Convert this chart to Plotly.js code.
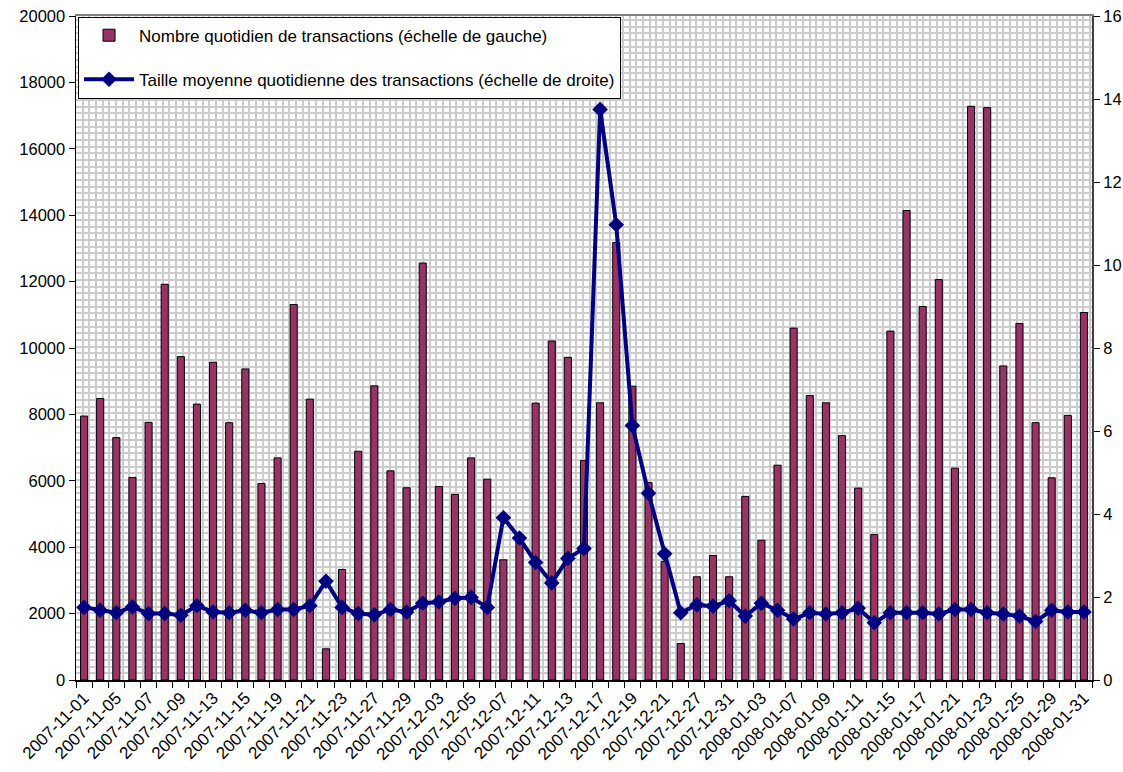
<!DOCTYPE html>
<html>
<head>
<meta charset="utf-8">
<script src="https://cdn.plot.ly/plotly-3.0.1.min.js"></script>
<style>
html, body { margin: 0; padding: 0; background: #ffffff; }
#chart { width: 1123px; height: 772px; }
</style>
</head>
<body>
<div id="chart"></div>
<script>
const dates = [
  "2007-11-01","2007-11-02","2007-11-05","2007-11-06","2007-11-07","2007-11-08","2007-11-09",
  "2007-11-12","2007-11-13","2007-11-14","2007-11-15","2007-11-16","2007-11-19","2007-11-20",
  "2007-11-21","2007-11-22","2007-11-23","2007-11-26","2007-11-27","2007-11-28","2007-11-29",
  "2007-11-30","2007-12-03","2007-12-04","2007-12-05","2007-12-06","2007-12-07","2007-12-10",
  "2007-12-11","2007-12-12","2007-12-13","2007-12-14","2007-12-17","2007-12-18","2007-12-19",
  "2007-12-20","2007-12-21","2007-12-24","2007-12-27","2007-12-28","2007-12-31","2008-01-02",
  "2008-01-03","2008-01-04","2008-01-07","2008-01-08","2008-01-09","2008-01-10","2008-01-11",
  "2008-01-14","2008-01-15","2008-01-16","2008-01-17","2008-01-18","2008-01-21","2008-01-22",
  "2008-01-23","2008-01-24","2008-01-25","2008-01-28","2008-01-29","2008-01-30","2008-01-31"
];

const transactionCount = [
  7950, 8480, 7300, 6100, 7760, 11920, 9740, 8310, 9570, 7750,
  9370, 5920, 6690, 11310, 8460, 940, 3330, 6890, 8860, 6300,
  5790, 12560, 5830, 5590, 6690, 6050, 3620, 4300, 8340, 10210,
  9720, 6610, 8350, 13180, 8850, 5950, 3570, 1100, 3110, 3750,
  3110, 5530, 4210, 6470, 10600, 8570, 8350, 7360, 5780, 4380,
  10510, 14140, 11250, 12060, 6380, 17280, 17240, 9460, 10740, 7750,
  6090, 7970, 11070
];

const averageSize = [
  1.75, 1.68, 1.62, 1.76, 1.60, 1.60, 1.56, 1.79, 1.64, 1.62,
  1.68, 1.62, 1.70, 1.70, 1.79, 2.38, 1.75, 1.60, 1.57, 1.70,
  1.64, 1.85, 1.88, 1.97, 1.99, 1.75, 3.91, 3.42, 2.83, 2.34,
  2.93, 3.17, 13.75, 10.97, 6.13, 4.50, 3.04, 1.62, 1.81, 1.78,
  1.91, 1.54, 1.85, 1.68, 1.47, 1.62, 1.59, 1.62, 1.73, 1.38,
  1.62, 1.62, 1.62, 1.59, 1.70, 1.70, 1.62, 1.59, 1.54, 1.41,
  1.68, 1.64, 1.64
];

const tickLabels = [
  "2007-11-01","2007-11-05","2007-11-07","2007-11-09","2007-11-13","2007-11-15","2007-11-19",
  "2007-11-21","2007-11-23","2007-11-27","2007-11-29","2007-12-03","2007-12-05","2007-12-07",
  "2007-12-11","2007-12-13","2007-12-17","2007-12-19","2007-12-21","2007-12-27","2007-12-31",
  "2008-01-03","2008-01-07","2008-01-09","2008-01-11","2008-01-15","2008-01-17","2008-01-21",
  "2008-01-23","2008-01-25","2008-01-29","2008-01-31"
];

const seriesNames = [
  "Nombre quotidien de transactions (échelle de gauche)",
  "Taille moyenne quotidienne des transactions (échelle de droite)"
];

const FONT = 'Arial, "Liberation Sans", sans-serif';

const traces = [
  {
    type: 'bar',
    x: dates,
    y: transactionCount,
    name: seriesNames[0],
    legendgroup: 'a',
    marker: { color: '#993366', line: { color: '#000000', width: 1 } },
    xaxis: 'x', yaxis: 'y'
  },
  {
    type: 'scatter',
    mode: 'lines+markers',
    x: dates,
    y: averageSize,
    name: seriesNames[1],
    legendgroup: 'b',
    line: { color: '#000080', width: 4 },
    marker: { symbol: 'diamond', size: 12, color: '#000080' },
    xaxis: 'x', yaxis: 'y2'
  },
  {
    // empty helper trace that carries the background pattern grid axes
    type: 'scatter',
    x: [], y: [],
    xaxis: 'x2', yaxis: 'y3',
    showlegend: false,
    hoverinfo: 'skip'
  }
];

const layout = {
  width: 1123,
  height: 772,
  margin: { l: 76, r: 31, t: 16, b: 92 },
  paper_bgcolor: '#ffffff',
  plot_bgcolor: '#ffffff',
  font: { family: FONT, size: 16, color: '#000000' },
  showlegend: true,
  bargap: 0.56,
  legend: {
    x: 0.002, y: 0.999, xanchor: 'left', yanchor: 'top',
    bgcolor: '#ffffff', bordercolor: '#000000', borderwidth: 1,
    font: { family: FONT, size: 17, color: '#000000' },
    traceorder: 'grouped', tracegroupgap: 19,
    itemwidth: 50
  },
  xaxis: {
    type: 'category',
    range: [-0.5, dates.length - 0.5],
    autorange: false,
    tickmode: 'array',
    tickvals: dates,
    ticktext: dates.map(d => tickLabels.includes(d) ? d : ''),
    tickson: 'boundaries',
    ticks: 'outside', ticklen: 6, tickcolor: '#000000', tickwidth: 1,
    tickangle: -45,
    tickfont: { family: FONT, size: 17, color: '#000000' },
    showgrid: false,
    showline: true, linecolor: '#000000', linewidth: 1.5,
    zeroline: false
  },
  yaxis: {
    range: [0, 20000],
    dtick: 2000,
    tickformat: 'd',
    ticks: 'outside', ticklen: 6, tickcolor: '#000000',
    tickfont: { family: FONT, size: 16.5, color: '#000000' },
    showgrid: false,
    showline: true, linecolor: '#000000', linewidth: 1.5,
    zeroline: false
  },
  yaxis2: {
    overlaying: 'y', side: 'right', anchor: 'x',
    range: [0, 16],
    dtick: 2,
    tickformat: 'd',
    ticks: 'outside', ticklen: 6, tickcolor: '#000000',
    tickfont: { family: FONT, size: 16.5, color: '#000000' },
    showgrid: false,
    showline: true, linecolor: '#404040', linewidth: 2,
    zeroline: false
  },
  xaxis2: {
    overlaying: 'x', side: 'top', anchor: 'y3',
    range: [0, 152.3], dtick: 1,
    showticklabels: false, ticks: '',
    showgrid: true, gridcolor: '#cccccc', gridwidth: 2,
    showline: true, linecolor: '#808080', linewidth: 2,
    zeroline: false
  },
  yaxis3: {
    overlaying: 'y', side: 'left', anchor: 'x2',
    range: [0, 99.6], dtick: 1,
    showticklabels: false, ticks: '',
    showgrid: true, gridcolor: '#cccccc', gridwidth: 2,
    showline: false,
    zeroline: false
  }
};

Plotly.newPlot('chart', traces, layout, { displayModeBar: false, staticPlot: true });
</script>
</body>
</html>
